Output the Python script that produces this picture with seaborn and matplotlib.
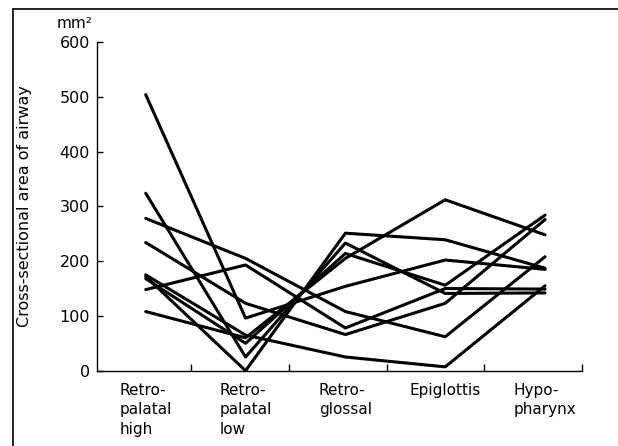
import numpy as np
import pandas as pd
import matplotlib
matplotlib.use('Agg')
import matplotlib.pyplot as plt
from matplotlib.lines import Line2D
import seaborn as sns

# airway sections (x categories)
sections = ['Retro-\npalatal\nhigh', 'Retro-\npalatal\nlow', 'Retro-\nglossal', 'Epiglottis', 'Hypo-\npharynx']

# cross-sectional area (mm2) per subject
s1 = [504, 96, 154, 202, 185]
s2 = [324, 25, 233, 141, 142]
s3 = [278, 205, 108, 62, 208]
s4 = [234, 123, 66, 123, 276]
s5 = [175, 65, 25, 7, 155]
s6 = [172, 0, 251, 239, 187]
s7 = [168, 50, 214, 156, 284]
s8 = [148, 193, 78, 150, 149]
s9 = [108, 60, 205, 312, 248]
subjects = [s1, s2, s3, s4, s5, s6, s7, s8, s9]

y_ticks = [0, 100, 200, 300, 400, 500, 600]

rows = []
for i, vals in enumerate(subjects):
    for j, v in enumerate(vals):
        rows.append({'subject': i, 'pos': j, 'area': v})
df = pd.DataFrame(rows)

sns.set_style('white')
plt.rcParams['font.family'] = ['DejaVu Sans']
plt.rcParams['text.color'] = 'black'
plt.rcParams['axes.labelcolor'] = 'black'

fig = plt.figure(figsize=(6.18, 4.46), dpi=100)
ax = fig.add_axes([97/618, 1 - 370.7/446, (582 - 97)/618, (370.7 - 42)/446])

sns.lineplot(data=df, x='pos', y='area', units='subject', estimator=None,
             color='black', linewidth=2.2, ax=ax, legend=False)

ax.set_xlim(-0.488, 4.37)
ax.set_ylim(0, 600)
sns.despine(ax=ax)
for sp in ['left', 'bottom']:
    ax.spines[sp].set_color('black')
    ax.spines[sp].set_linewidth(1.0)

ax.set_yticks(y_ticks)
ax.set_yticklabels([str(t) for t in y_ticks], fontsize=11.5)
ax.tick_params(axis='y', left=True, direction='in', length=4, width=1, pad=5,
               color='black', labelcolor='black')

# category labels without marks, boundary ticks pointing up
ax.set_xticks(range(len(sections)))
ax.set_xticklabels(sections, fontsize=11, multialignment='left', linespacing=1.35)
ax.tick_params(axis='x', which='major', bottom=True, length=0, pad=9, labelcolor='black')
ax.set_xticks([0.454, 1.437, 2.42, 3.39, 4.37], minor=True)
ax.tick_params(axis='x', which='minor', bottom=True, direction='in', length=5, width=1, color='black')

ax.set_xlabel('')
ax.set_ylabel('Cross-sectional area of airway', fontsize=11.5, labelpad=20, color='black')
fig.text(93/618, 1 - 28/446, 'mm²', ha='right', va='baseline', fontsize=11, color='black')

# partial frame around the figure
fig.add_artist(Line2D([13/618, 13/618], [0, 1 - 9/446], color='black', lw=1.2))
fig.add_artist(Line2D([13/618, 1], [1 - 9/446, 1 - 9/446], color='black', lw=1.2))

fig.savefig('out.png', dpi=100)
